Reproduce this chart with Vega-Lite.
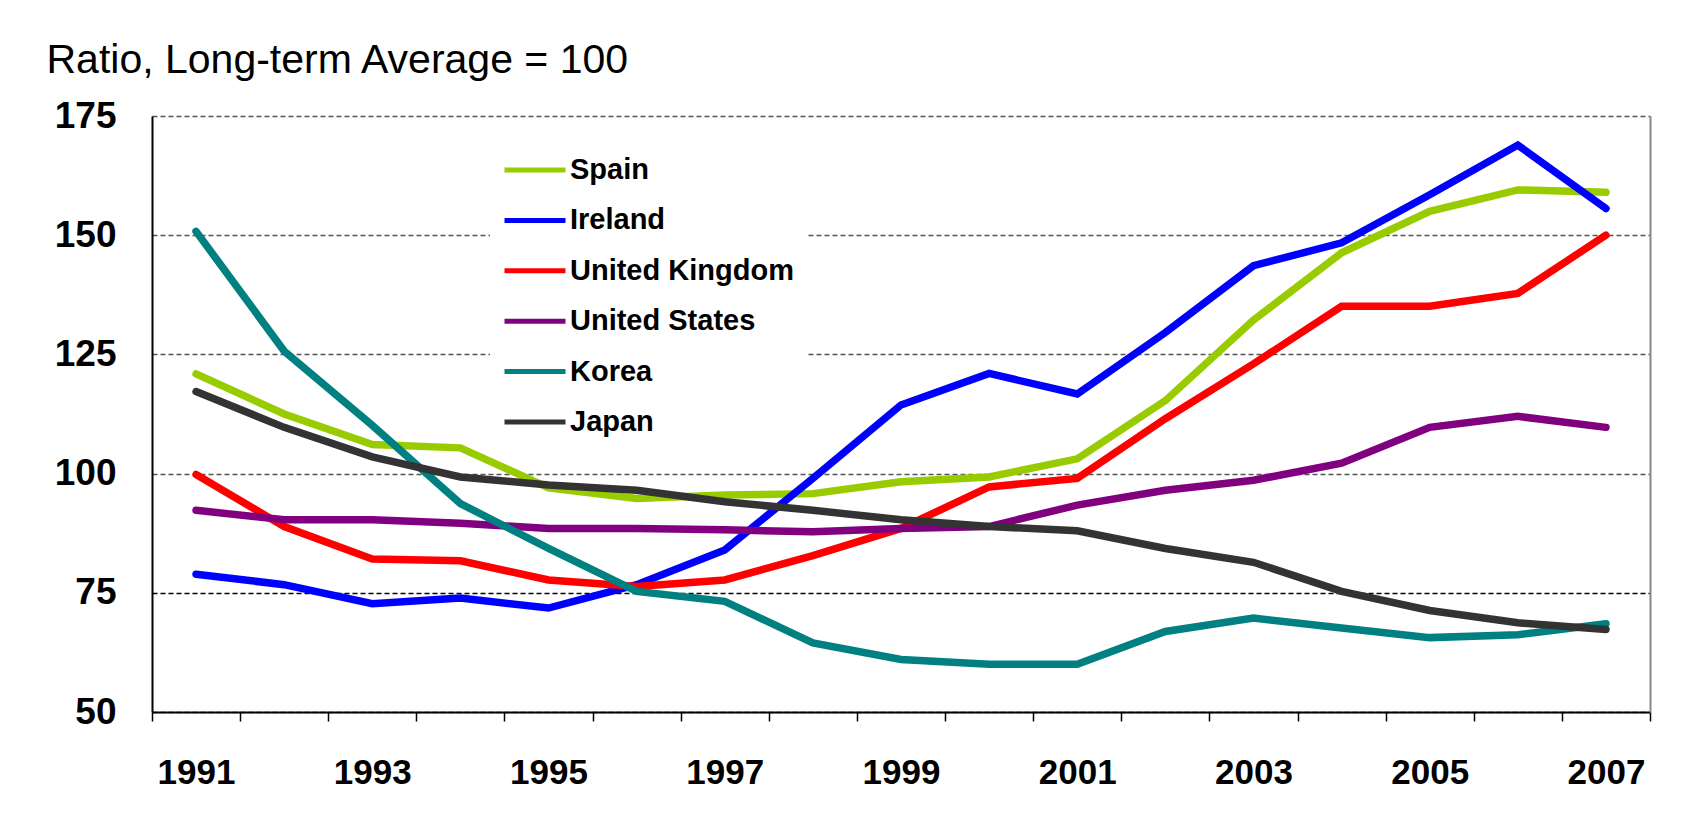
{
  "$schema": "https://vega.github.io/schema/vega-lite/v6.json",
  "width": 1498,
  "height": 596,
  "autosize": {"type": "none"},
  "padding": {"left": 152, "top": 116, "right": 46, "bottom": 116},
  "background": "white",
  "config": {"view": {"stroke": null}, "font": "Liberation Sans"},
  "data": {"values": [
    {"country": "Spain", "year": 1991, "value": 120.9},
    {"country": "Spain", "year": 1992, "value": 112.5},
    {"country": "Spain", "year": 1993, "value": 106.1},
    {"country": "Spain", "year": 1994, "value": 105.4},
    {"country": "Spain", "year": 1995, "value": 97.0},
    {"country": "Spain", "year": 1996, "value": 94.8},
    {"country": "Spain", "year": 1997, "value": 95.5},
    {"country": "Spain", "year": 1998, "value": 95.8},
    {"country": "Spain", "year": 1999, "value": 98.3},
    {"country": "Spain", "year": 2000, "value": 99.3},
    {"country": "Spain", "year": 2001, "value": 103.1},
    {"country": "Spain", "year": 2002, "value": 115.3},
    {"country": "Spain", "year": 2003, "value": 132.2},
    {"country": "Spain", "year": 2004, "value": 146.3},
    {"country": "Spain", "year": 2005, "value": 155.0},
    {"country": "Spain", "year": 2006, "value": 159.5},
    {"country": "Spain", "year": 2007, "value": 159.0},
    {"country": "Ireland", "year": 1991, "value": 78.9},
    {"country": "Ireland", "year": 1992, "value": 76.7},
    {"country": "Ireland", "year": 1993, "value": 72.7},
    {"country": "Ireland", "year": 1994, "value": 73.9},
    {"country": "Ireland", "year": 1995, "value": 71.8},
    {"country": "Ireland", "year": 1996, "value": 76.7},
    {"country": "Ireland", "year": 1997, "value": 84.0},
    {"country": "Ireland", "year": 1998, "value": 99.0},
    {"country": "Ireland", "year": 1999, "value": 114.4},
    {"country": "Ireland", "year": 2000, "value": 121.0},
    {"country": "Ireland", "year": 2001, "value": 116.7},
    {"country": "Ireland", "year": 2002, "value": 129.6},
    {"country": "Ireland", "year": 2003, "value": 143.6},
    {"country": "Ireland", "year": 2004, "value": 148.4},
    {"country": "Ireland", "year": 2005, "value": 158.5},
    {"country": "Ireland", "year": 2006, "value": 168.9},
    {"country": "Ireland", "year": 2007, "value": 155.6},
    {"country": "United Kingdom", "year": 1991, "value": 99.8},
    {"country": "United Kingdom", "year": 1992, "value": 88.9},
    {"country": "United Kingdom", "year": 1993, "value": 82.1},
    {"country": "United Kingdom", "year": 1994, "value": 81.7},
    {"country": "United Kingdom", "year": 1995, "value": 77.7},
    {"country": "United Kingdom", "year": 1996, "value": 76.3},
    {"country": "United Kingdom", "year": 1997, "value": 77.7},
    {"country": "United Kingdom", "year": 1998, "value": 82.8},
    {"country": "United Kingdom", "year": 1999, "value": 88.5},
    {"country": "United Kingdom", "year": 2000, "value": 97.2},
    {"country": "United Kingdom", "year": 2001, "value": 99.0},
    {"country": "United Kingdom", "year": 2002, "value": 111.5},
    {"country": "United Kingdom", "year": 2003, "value": 123.0},
    {"country": "United Kingdom", "year": 2004, "value": 135.1},
    {"country": "United Kingdom", "year": 2005, "value": 135.1},
    {"country": "United Kingdom", "year": 2006, "value": 137.8},
    {"country": "United Kingdom", "year": 2007, "value": 150.0},
    {"country": "United States", "year": 1991, "value": 92.3},
    {"country": "United States", "year": 1992, "value": 90.3},
    {"country": "United States", "year": 1993, "value": 90.3},
    {"country": "United States", "year": 1994, "value": 89.6},
    {"country": "United States", "year": 1995, "value": 88.5},
    {"country": "United States", "year": 1996, "value": 88.5},
    {"country": "United States", "year": 1997, "value": 88.2},
    {"country": "United States", "year": 1998, "value": 87.8},
    {"country": "United States", "year": 1999, "value": 88.5},
    {"country": "United States", "year": 2000, "value": 88.9},
    {"country": "United States", "year": 2001, "value": 93.4},
    {"country": "United States", "year": 2002, "value": 96.5},
    {"country": "United States", "year": 2003, "value": 98.6},
    {"country": "United States", "year": 2004, "value": 102.2},
    {"country": "United States", "year": 2005, "value": 109.7},
    {"country": "United States", "year": 2006, "value": 112.0},
    {"country": "United States", "year": 2007, "value": 109.7},
    {"country": "Korea", "year": 1991, "value": 150.8},
    {"country": "Korea", "year": 1992, "value": 125.7},
    {"country": "Korea", "year": 1993, "value": 110.1},
    {"country": "Korea", "year": 1994, "value": 93.7},
    {"country": "Korea", "year": 1995, "value": 84.3},
    {"country": "Korea", "year": 1996, "value": 75.3},
    {"country": "Korea", "year": 1997, "value": 73.2},
    {"country": "Korea", "year": 1998, "value": 64.5},
    {"country": "Korea", "year": 1999, "value": 61.0},
    {"country": "Korea", "year": 2000, "value": 60.0},
    {"country": "Korea", "year": 2001, "value": 60.0},
    {"country": "Korea", "year": 2002, "value": 66.9},
    {"country": "Korea", "year": 2003, "value": 69.7},
    {"country": "Korea", "year": 2004, "value": 67.6},
    {"country": "Korea", "year": 2005, "value": 65.6},
    {"country": "Korea", "year": 2006, "value": 66.2},
    {"country": "Korea", "year": 2007, "value": 68.5},
    {"country": "Japan", "year": 1991, "value": 117.2},
    {"country": "Japan", "year": 1992, "value": 109.7},
    {"country": "Japan", "year": 1993, "value": 103.5},
    {"country": "Japan", "year": 1994, "value": 99.3},
    {"country": "Japan", "year": 1995, "value": 97.6},
    {"country": "Japan", "year": 1996, "value": 96.5},
    {"country": "Japan", "year": 1997, "value": 94.1},
    {"country": "Japan", "year": 1998, "value": 92.3},
    {"country": "Japan", "year": 1999, "value": 90.3},
    {"country": "Japan", "year": 2000, "value": 88.9},
    {"country": "Japan", "year": 2001, "value": 88.0},
    {"country": "Japan", "year": 2002, "value": 84.3},
    {"country": "Japan", "year": 2003, "value": 81.4},
    {"country": "Japan", "year": 2004, "value": 75.3},
    {"country": "Japan", "year": 2005, "value": 71.3},
    {"country": "Japan", "year": 2006, "value": 68.7},
    {"country": "Japan", "year": 2007, "value": 67.3}
  ]},
  "layer": [
    {
      "mark": {"type": "line", "strokeWidth": 7.5, "strokeCap": "round"},
      "encoding": {
        "x": {
          "field": "year",
          "type": "ordinal",
          "scale": {"type": "band", "paddingInner": 0, "paddingOuter": 0},
          "axis": {
            "title": null,
            "labelExpr": "datum.value % 2 == 1 ? datum.label : ''",
            "labelAngle": 0,
            "tickBand": "extent",
            "tickSize": 9,
            "tickColor": "black",
            "tickWidth": 1.5,
            "domainColor": "black",
            "domainWidth": 2,
            "grid": false,
            "labelFont": "Liberation Sans",
            "labelFontWeight": "bold",
            "labelFontSize": 35,
            "labelColor": "black",
            "labelPadding": 34,
            "labelBaseline": "top"
          }
        },
        "y": {
          "field": "value",
          "type": "quantitative",
          "scale": {"domain": [50, 175], "nice": false, "zero": false},
          "axis": {
            "values": [50, 75, 100, 125, 150, 175],
            "title": "Ratio, Long-term Average = 100",
            "titleAngle": 0,
            "titleX": -106,
            "titleY": -44,
            "titleAlign": "left",
            "titleBaseline": "alphabetic",
            "titleFont": "Liberation Sans",
            "titleFontSize": 41,
            "titleFontWeight": "normal",
            "titleColor": "black",
            "labelFont": "Liberation Sans",
            "labelFontSize": 37,
            "labelFontWeight": "bold",
            "labelColor": "black",
            "labelPadding": 36,
            "ticks": false,
            "tickSize": 0,
            "domainColor": "black",
            "domainWidth": 2,
            "grid": true,
            "gridDash": [5, 3],
            "gridWidth": 1.5,
            "gridColor": {"condition": {"test": "datum.value === 75", "value": "black"}, "value": "#555555"}
          }
        },
        "color": {
          "field": "country",
          "type": "nominal",
          "scale": {
            "domain": ["Spain", "Ireland", "United Kingdom", "United States", "Korea", "Japan"],
            "range": ["#99CC00", "#0000FF", "#FF0000", "#800080", "#008080", "#333333"]
          },
          "legend": {
            "title": null,
            "orient": "none",
            "legendX": 338,
            "legendY": 24,
            "symbolType": "stroke",
            "symbolSize": 3721,
            "symbolStrokeWidth": 5,
            "clipHeight": 36,
            "rowPadding": 14.4,
            "labelFont": "Liberation Sans",
            "labelFontSize": 29,
            "labelFontWeight": "bold",
            "labelColor": "black",
            "labelOffset": 2,
            "labelLimit": 400,
            "fillColor": "white",
            "padding": 12
          }
        }
      }
    },
    {
      "mark": {"type": "rule", "opacity": 0},
      "encoding": {
        "y": {
          "field": "value",
          "type": "quantitative",
          "scale": {"domain": [50, 175], "nice": false, "zero": false},
          "axis": {
            "orient": "right",
            "title": null,
            "labels": false,
            "ticks": false,
            "grid": false,
            "domainColor": "#888888",
            "domainWidth": 2
          }
        }
      }
    }
  ],
  "resolve": {"axis": {"y": "independent"}}
}
